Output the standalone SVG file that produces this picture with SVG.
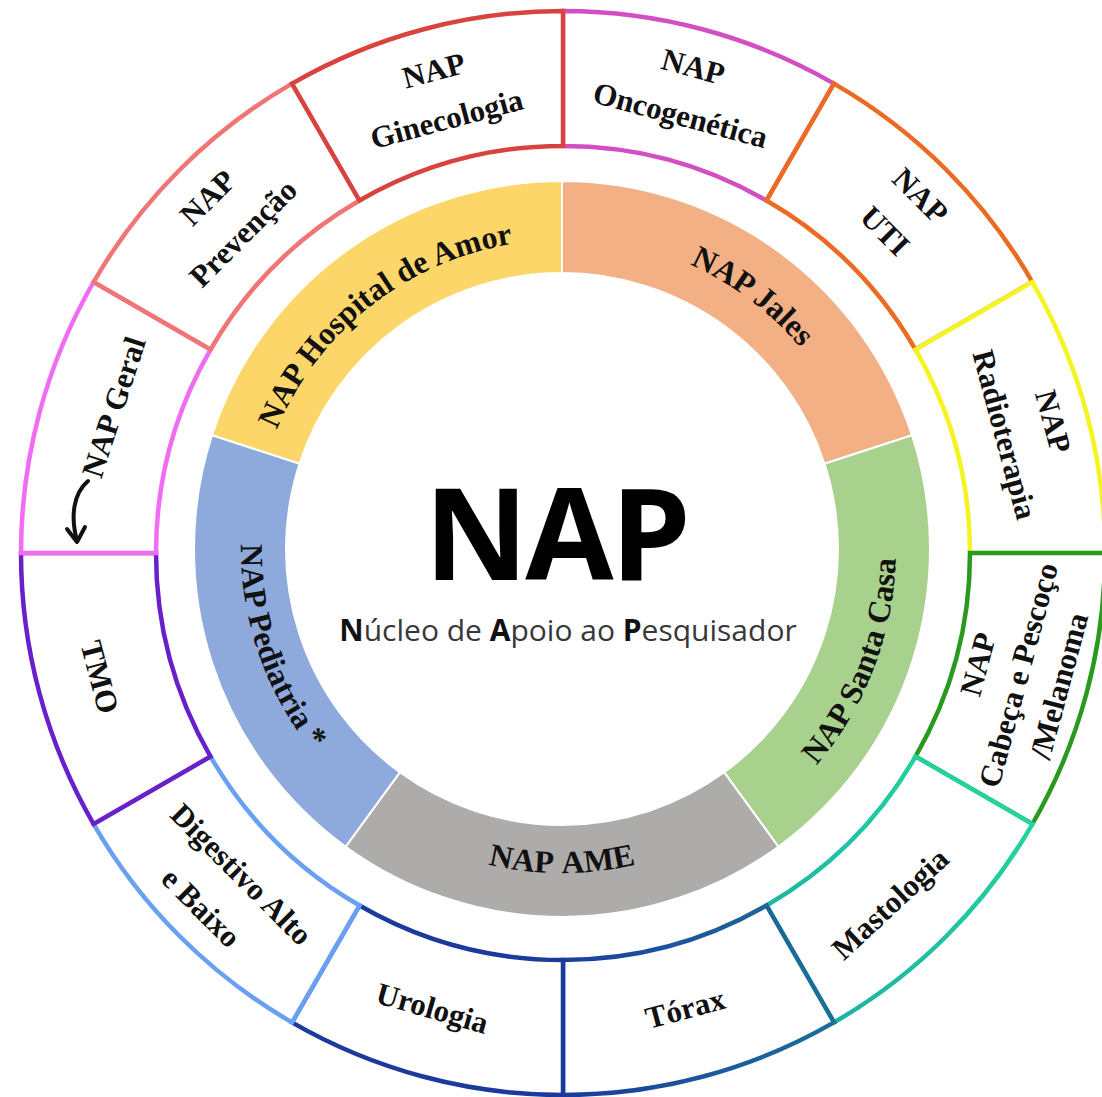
<svg xmlns="http://www.w3.org/2000/svg" width="1102" height="1097" viewBox="0 0 1102 1097">
<style>
.seg{fill:#fff;stroke-width:4.5;stroke-linejoin:miter}
.band{stroke:#fff;stroke-width:2}
.lbl{font-family:"Liberation Serif","DejaVu Serif",serif;font-weight:bold;font-size:31px;fill:#111;text-anchor:middle}
.mid{font-size:32px}
.big{font-family:"Open Sans","Liberation Sans",sans-serif;font-weight:bold;font-size:128px;fill:#000;text-anchor:middle;letter-spacing:-3px}
.sub{font-family:"Open Sans","Liberation Sans",sans-serif;font-size:30px;fill:#383838;text-anchor:middle}
.sub .b{font-weight:bold;fill:#111}
</style>
<defs>
<linearGradient id="gTorax" gradientUnits="userSpaceOnUse" x1="563" y1="1000" x2="834" y2="960">
<stop offset="0" stop-color="#1b3d9e"/><stop offset="1" stop-color="#1c7298"/>
</linearGradient>
<linearGradient id="gMasto" gradientUnits="userSpaceOnUse" x1="790" y1="1000" x2="1000" y2="780">
<stop offset="0" stop-color="#1db0a4"/><stop offset="1" stop-color="#25d59d"/>
</linearGradient>
<path id="p-hosp" d="M 259.0 487.0 A 309 309 0 0 1 572.8 240.2"/>
<path id="p-jales" d="M 545.7 237.4 A 312 312 0 0 1 866.0 478.8"/>
<path id="p-santa" d="M 723.9 841.1 A 334 334 0 0 0 877.8 440.3"/>
<path id="p-ame" d="M 353.7 797.2 A 324 324 0 0 0 770.3 797.2"/>
<path id="p-ped" d="M 262.3 434.0 A 321 321 0 0 0 396.7 824.2"/>
</defs>
<rect width="1102" height="1097" fill="#fff"/>

<!-- outer ring -->
<g id="nap-oncogenetica">
<path class="seg" stroke="#d24fc3" d="M 563 11 A 542 542 0 0 1 834 83.61 L 766.5 200.53 A 407 407 0 0 0 563 146 Z"/>
<g transform="translate(686.7 91.3) rotate(15)"><text class="lbl" y="-15">NAP</text><text class="lbl" y="35">Oncogenética</text></g>
</g>
<g id="nap-uti">
<path class="seg" stroke="#ec6b23" d="M 834 83.61 A 542 542 0 0 1 1032.39 282 L 915.47 349.5 A 407 407 0 0 0 766.5 200.53 Z"/>
<g transform="translate(902.4 213.6) rotate(45)"><text class="lbl" y="-15">NAP</text><text class="lbl" y="35">UTI</text></g>
</g>
<g id="nap-radioterapia">
<path class="seg" stroke="#f5f423" d="M 1032.39 282 A 542 542 0 0 1 1105 553 L 970 553 A 407 407 0 0 0 915.47 349.5 Z"/>
<g transform="translate(1028.6 428.2) rotate(75)"><text class="lbl" y="-15">NAP</text><text class="lbl" y="35">Radioterapia</text></g>
</g>
<g id="nap-cabeca-pescoco">
<path class="seg" stroke="#2a9a1f" d="M 1105 553 A 542 542 0 0 1 1032.39 824 L 915.47 756.5 A 407 407 0 0 0 970 553 Z"/>
<g transform="translate(1018.8 675.2) rotate(-75)"><text class="lbl" y="-32">NAP</text><text class="lbl" y="10">Cabeça e Pescoço</text><text class="lbl" y="52">/Melanoma</text></g>
</g>
<g id="mastologia">
<path class="seg" stroke="url(#gMasto)" d="M 1032.39 824 A 542 542 0 0 1 834 1022.39 L 766.5 905.47 A 407 407 0 0 0 915.47 756.5 Z"/>
<g transform="translate(890.4 904) rotate(-43)"><text class="lbl" y="10">Mastologia</text></g>
</g>
<g id="torax">
<path class="seg" stroke="url(#gTorax)" d="M 834 1022.39 A 542 542 0 0 1 563 1095 L 563 960 A 407 407 0 0 0 766.5 905.47 Z"/>
<g transform="translate(685.2 1008.9) rotate(-15)"><text class="lbl" y="10">Tórax</text></g>
</g>
<g id="urologia">
<path class="seg" stroke="#1b3a9c" d="M 563 1095 A 542 542 0 0 1 292 1022.39 L 359.5 905.47 A 407 407 0 0 0 563 960 Z"/>
<g transform="translate(432.3 1008.6) rotate(16)"><text class="lbl" y="10">Urologia</text></g>
</g>
<g id="digestivo">
<path class="seg" stroke="#69a0f2" d="M 292 1022.39 A 542 542 0 0 1 93.61 824 L 210.53 756.5 A 407 407 0 0 0 359.5 905.47 Z"/>
<g transform="translate(222.9 893.1) rotate(45)"><text class="lbl" y="-16">Digestivo Alto</text><text class="lbl" x="-5" y="36">e Baixo</text></g>
</g>
<g id="tmo">
<path class="seg" stroke="#6a20c8" d="M 93.61 824 A 542 542 0 0 1 21 553 L 156 553 A 407 407 0 0 0 210.53 756.5 Z"/>
<g transform="translate(99.4 677.2) rotate(75)"><text class="lbl" y="10">TMO</text></g>
</g>
<g id="nap-geral">
<path class="seg" stroke="#f06cf2" d="M 21 553 A 542 542 0 0 1 93.61 282 L 210.53 349.5 A 407 407 0 0 0 156 553 Z"/>
<g transform="translate(114.1 407.1) rotate(-72)"><text class="lbl" y="10">NAP Geral</text></g>
</g>
<g id="nap-prevencao">
<path class="seg" stroke="#f07575" d="M 93.61 282 A 542 542 0 0 1 292 83.61 L 359.5 200.53 A 407 407 0 0 0 210.53 349.5 Z"/>
<g transform="translate(225.7 215.7) rotate(-45)"><text class="lbl" y="-15">NAP</text><text class="lbl" y="35">Prevenção</text></g>
</g>
<g id="nap-ginecologia">
<path class="seg" stroke="#d8433f" d="M 292 83.61 A 542 542 0 0 1 563 11 L 563 146 A 407 407 0 0 0 359.5 200.53 Z"/>
<g transform="translate(440.3 95.1) rotate(-15)"><text class="lbl" y="-15">NAP</text><text class="lbl" y="35">Ginecologia</text></g>
</g>

<!-- middle ring -->
<g id="nap-hospital-de-amor">
<path class="band" fill="#fdd66a" d="M 212.0 435.3 A 368 368 0 0 1 562 181 L 562 273 A 276 276 0 0 0 299.5 463.7 Z"/>
<text class="lbl mid"><textPath href="#p-hosp" startOffset="50%">NAP Hospital de Amor</textPath></text>
</g>
<g id="nap-jales">
<path class="band" fill="#f2b084" d="M 562 181 A 368 368 0 0 1 912.0 435.3 L 824.5 463.7 A 276 276 0 0 0 562 273 Z"/>
<text class="lbl mid"><textPath href="#p-jales" startOffset="50%">NAP Jales</textPath></text>
</g>
<g id="nap-santa-casa">
<path class="band" fill="#a9d18e" d="M 912.0 435.3 A 368 368 0 0 1 778.3 846.7 L 724.2 772.3 A 276 276 0 0 0 824.5 463.7 Z"/>
<text class="lbl mid"><textPath href="#p-santa" startOffset="50%">NAP Santa Casa</textPath></text>
</g>
<g id="nap-ame">
<path class="band" fill="#aeabab" d="M 778.3 846.7 A 368 368 0 0 1 345.7 846.7 L 399.8 772.3 A 276 276 0 0 0 724.2 772.3 Z"/>
<text class="lbl mid" word-spacing="4"><textPath href="#p-ame" startOffset="50%">NAP AME</textPath></text>
</g>
<g id="nap-pediatria">
<path class="band" fill="#8eaadc" d="M 345.7 846.7 A 368 368 0 0 1 212.0 435.3 L 299.5 463.7 A 276 276 0 0 0 399.8 772.3 Z"/>
<text class="lbl mid"><textPath href="#p-ped" startOffset="50%">NAP Pediatria *</textPath></text>
</g>

<!-- center -->
<g id="nap-center">
<text class="big" x="556" y="580">NAP</text>
<text class="sub" x="568" y="641"><tspan class="b">N</tspan>úcleo de <tspan class="b">A</tspan>poio ao <tspan class="b">P</tspan>esquisador</text>
</g>

<!-- connectors -->
<g id="connectors" fill="none" stroke="#111" stroke-width="4" stroke-linecap="round" stroke-linejoin="round">
<path d="M 88 481 C 74 493 70 515 77 541"/>
<path d="M 67 529 L 77 542 L 85 527"/>
</g>
</svg>
